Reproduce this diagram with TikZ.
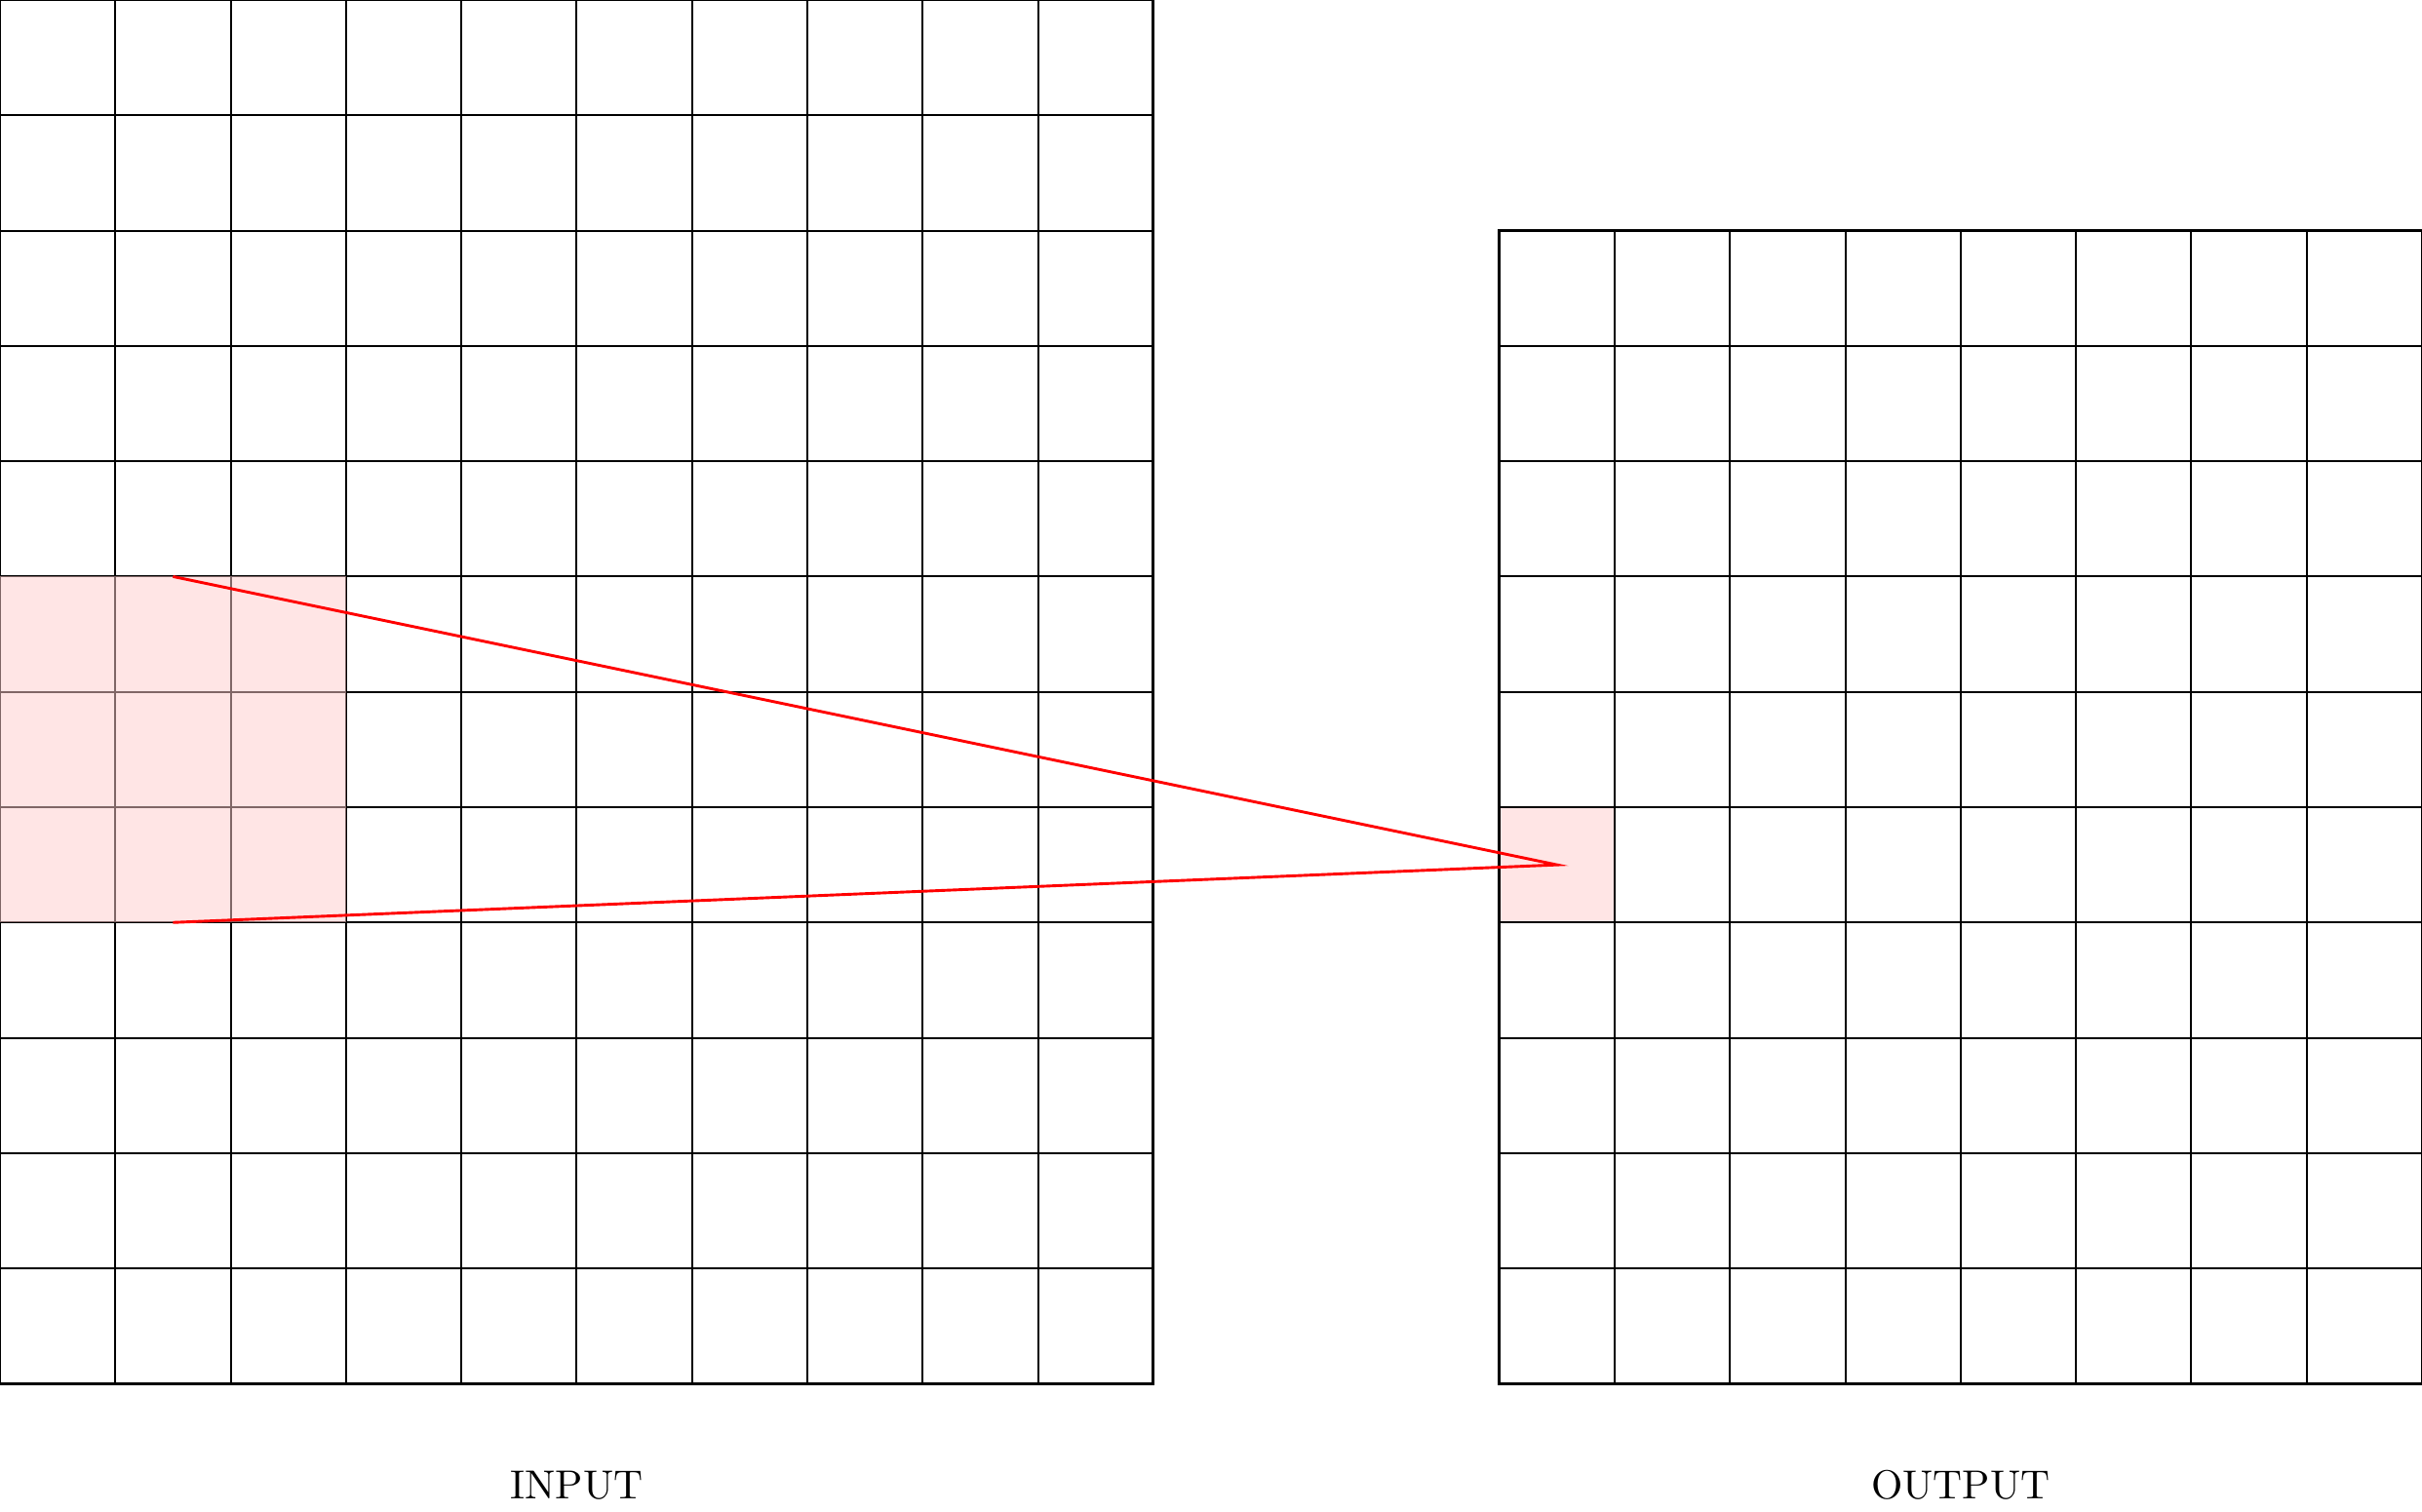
\documentclass[tikz,border=0pt]{standalone}
\usepackage{tikz}
\usetikzlibrary{positioning}

\begin{document}
\begin{tikzpicture}[win/.style={fill=red!20, fill opacity=0.5}, lbl/.style={font=\normalsize}]
    \useasboundingbox (0,-1.1123) rectangle (21,12);
    % input grid
    \draw[line width=0.5pt] (0,0) grid (10,12);
    \draw[line width=0.7pt] (0,0) rectangle (10,12);
    \fill[win] (0,4) rectangle (3,7);
    % output grid
    \fill[win] (13,4) rectangle (14,5);
    \draw[line width=0.5pt] (13,0) grid (21,10);
    \draw[line width=0.7pt] (13,0) rectangle (21,10);
    \coordinate (wtop) at (1.5,7);
    \coordinate (wbot) at (1.5,4);
    \coordinate (tip)  at (13.5,4.5);
    \draw[red, line width=0.7pt] (wtop) -- (tip) -- (wbot);
    \coordinate (inbase)  at (5,0);
    \coordinate (outbase) at (17,0);
    \node[below=0.63cm of inbase, lbl] (inlbl) {INPUT};
    \node[below=0.63cm of outbase, lbl] (outlbl) {OUTPUT};
\end{tikzpicture}
\end{document}
